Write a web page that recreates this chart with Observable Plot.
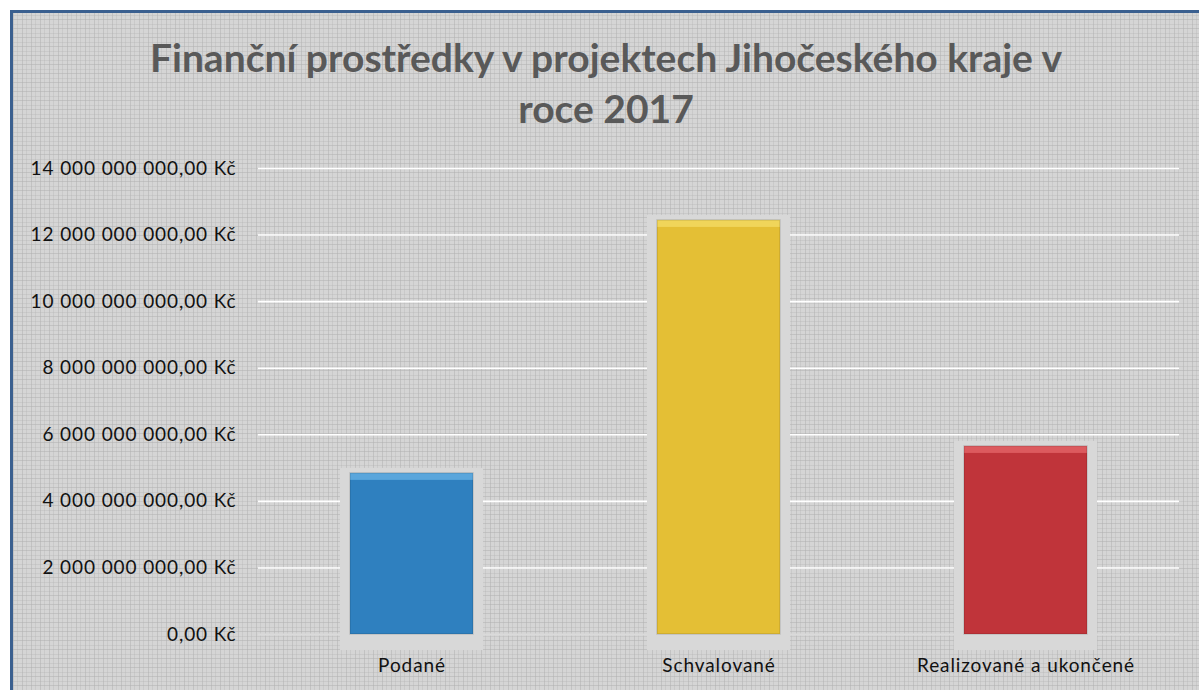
<!DOCTYPE html>
<html>
<head>
<meta charset="utf-8">
<script src="https://cdn.jsdelivr.net/npm/d3@7"></script>
<script src="https://cdn.jsdelivr.net/npm/@observablehq/plot@0.6"></script>
<style>
  html, body { margin: 0; padding: 0; width: 1199px; height: 690px; overflow: hidden; background: #ffffff; }
  #frame {
    position: absolute; left: 10px; top: 10px; width: 1200px; height: 700px;
    border-left: 3px solid #3a5f8f; border-top: 3px solid #3a5f8f;
    background-color: #d5d5d5;
    background-image:
      repeating-linear-gradient(90deg, rgba(175,175,175,0.5) 0 1px, transparent 1px 4px, rgba(175,175,175,0.3) 4px 5px, transparent 5px 9px),
      repeating-linear-gradient(0deg, rgba(175,175,175,0.5) 0 1px, transparent 1px 4px, rgba(175,175,175,0.3) 4px 5px, transparent 5px 9px);
  }
  #title {
    position: absolute; left: 0; top: 0; width: 1186px; height: 137px;
    font-family: Lato, "Open Sans", sans-serif; font-weight: bold; font-size: 39px;
    color: #595959; text-align: center; line-height: 51px; padding-top: 19px; box-sizing: border-box;
  }
  #chart { position: absolute; left: 0; top: 137px; }
</style>
</head>
<body>
<div id="frame">
  <div id="title">Finanční prostředky v projektech Jihočeského kraje v<br>roce 2017</div>
  <div id="chart"></div>
</div>
<script>
const categories = ["Podané", "Schvalované", "Realizované a ukončené"];
const values = [4840000000, 12440000000, 5650000000];
const colors = ["#2f80bf", "#e4bf35", "#c0343a"];
const highlights = ["#5aa6dc", "#f0d55a", "#dc5a5e"];
const yTicks = [0, 2e9, 4e9, 6e9, 8e9, 10e9, 12e9, 14e9];

const data = categories.map((c, i) => ({category: c, value: values[i], color: colors[i], hi: highlights[i]}));

const locale = d3.formatLocale({decimal: ",", thousands: "\u00a0", grouping: [3], currency: ["", "\u00a0Kč"]});
const fmt = locale.format("$,.2f");

const plot = Plot.plot({
  width: 1186,
  height: 540,
  marginLeft: 245,
  marginRight: 20,
  marginTop: 18,
  marginBottom: 56,
  style: {background: "transparent", fontFamily: "Lato, 'Open Sans', sans-serif", fontSize: "19px", letterSpacing: "0.9px", color: "#111"},
  x: {domain: categories, paddingInner: 0.6, paddingOuter: 0.3, label: null, tickSize: 0, tickPadding: 24},
  y: {domain: [0, 14e9], ticks: yTicks, tickFormat: fmt, label: null, tickSize: 0, tickPadding: 22},
  marks: [
    Plot.ruleY(yTicks.filter(d => d > 0), {stroke: "#ffffff", strokeWidth: 1.6}),
    Plot.ruleY([0], {stroke: "#dadada", strokeWidth: 2}),
    Plot.barY(data, {x: "category", y: "value", fill: "#d8d8d8", insetLeft: -10, insetRight: -10, insetTop: -5, insetBottom: -16}),
    Plot.barY(data, {x: "category", y: "value", fill: "hi"}),
    Plot.barY(data, {x: "category", y: "value", fill: "color", insetTop: 7}),
    Plot.barY(data, {x: "category", y: "value", fill: "none", stroke: "#000", strokeOpacity: 0.12, strokeWidth: 1.5})
  ]
});
document.getElementById("chart").appendChild(plot);
</script>
</body>
</html>
